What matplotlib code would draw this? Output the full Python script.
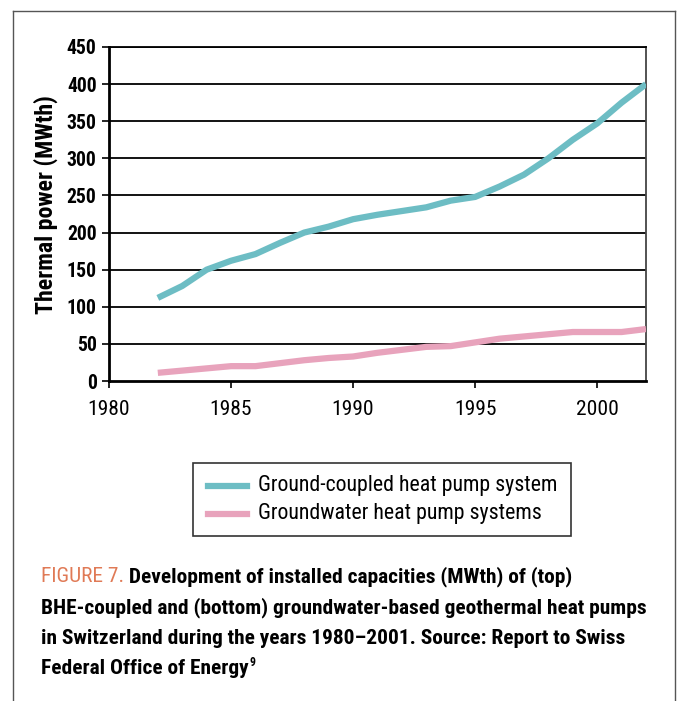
import matplotlib
matplotlib.use("Agg")
import matplotlib.pyplot as plt
from matplotlib.patches import Rectangle
from matplotlib.lines import Line2D
from matplotlib.font_manager import FontProperties

years = list(range(1982, 2003))
ground_coupled = [112, 128, 150, 162, 171, 186, 200, 208, 218, 224, 229, 234,
                  243, 248, 262, 278, 300, 325, 347, 375, 400]
groundwater = [11, 14, 17, 20, 20, 24, 28, 31, 33, 38, 42, 46,
               47, 52, 57, 60, 63, 66, 66, 66, 70]
series_labels = ["Ground-coupled heat pump system", "Groundwater heat pump systems"]
x_ticks = [1980, 1985, 1990, 1995, 2000]
y_ticks = list(range(0, 451, 50))
y_label = "Thermal power (MWth)"
caption_head = "FIGURE 7."
caption_lines = [
    " Development of installed capacities (MWth) of (top)",
    "BHE-coupled and (bottom) groundwater-based geothermal heat pumps",
    "in Switzerland during the years 1980\u20132001. Source: Report to Swiss",
    "Federal Office of Energy",
]

FONT = ["Roboto Condensed", "DejaVu Sans"]
plt.rcParams["font.family"] = FONT

teal = "#6dbdc4"
pink = "#e8a3bc"
salmon = "#e07a56"

fig = plt.figure(figsize=(6.79, 7.01), dpi=100)
W, H = 679, 701
renderer = fig.canvas.get_renderer()


def fx(px):
    return px / W


def fy(py):
    return 1 - py / H


def text_w(s, size, weight="normal"):
    fp = FontProperties(family=FONT, size=size, weight=weight)
    w, h, d = renderer.get_text_width_height_descent(s, fp, ismath=False)
    return w


def fit(s, target, weight="normal"):
    return 10 * target / text_w(s, 10, weight)


# outer frame (left, top, right)
fig.add_artist(Line2D([fx(13), fx(13)], [fy(11), 0], color="#555555", lw=1.0))
fig.add_artist(Line2D([fx(13), fx(675)], [fy(11), fy(11)], color="#555555", lw=1.0))
fig.add_artist(Line2D([fx(675), fx(675)], [fy(11), 0], color="#555555", lw=1.0))

ytick_size = fit("450", 30, "bold")
xtick_size = fit("1980", 42)
ylabel_size = fit(y_label, 218, "bold")

ax = fig.add_axes([fx(109), fy(381), fx(646) - fx(109), fy(47) - fy(381)])
for yv in y_ticks[1:]:
    ax.axhline(yv, color="black", lw=1.3, zorder=1)
ax.plot(years, ground_coupled, color=teal, lw=4.5, solid_capstyle="butt", zorder=3)
ax.plot(years, groundwater, color=pink, lw=4.5, solid_capstyle="butt", zorder=3)
ax.set_xlim(1980, 2002)
ax.set_ylim(0, 450)
ax.set_xticks(x_ticks)
ax.set_yticks(y_ticks)
ax.set_xticklabels([str(v) for v in x_ticks], fontsize=xtick_size)
ax.set_yticklabels([str(v) for v in y_ticks], fontsize=ytick_size, fontweight="bold")
ax.tick_params(axis="both", direction="out", length=5, width=1.2)
ax.tick_params(axis="x", pad=9)
ax.tick_params(axis="y", pad=4)
for s in ["left", "bottom"]:
    ax.spines[s].set_linewidth(2.0)
ax.spines["top"].set_linewidth(1.3)
ax.spines["right"].set_linewidth(1.3)
ax.spines["right"].set_color("#444444")

# y-axis title
fig.text(fx(46), fy(205), y_label, fontsize=ylabel_size, fontweight="bold",
         rotation=90, ha="center", va="center")

# legend box
fig.add_artist(Rectangle((fx(193), fy(536)), fx(571) - fx(193), fy(463) - fy(536),
                         fill=False, ec="#333333", lw=1.2))
leg_size = fit(series_labels[0], 299)
for i, (lab, col) in enumerate(zip(series_labels, [teal, pink])):
    yy = 486 + i * 28
    fig.add_artist(Line2D([fx(208), fx(247)], [fy(yy), fy(yy)], color=col, lw=4.5))
    fig.text(fx(258), fy(yy), lab, fontsize=leg_size, va="center", ha="left")

# caption
cap_size = fit(caption_lines[1], 606, "bold")
t = fig.text(fx(41), fy(577), caption_head, fontsize=cap_size, color=salmon,
             va="center", ha="left")
fig.canvas.draw()
bb = t.get_window_extent()
fig.text(bb.x1 / W, fy(577), caption_lines[0], fontsize=cap_size, fontweight="bold",
         va="center", ha="left")
tt = None
for i, line in enumerate(caption_lines[1:]):
    yy = 608 + i * 30.3
    tt = fig.text(fx(41), fy(yy), line, fontsize=cap_size, fontweight="bold",
                  va="center", ha="left")
fig.canvas.draw()
bb2 = tt.get_window_extent()
fig.text(bb2.x1 / W + 0.001, fy(663), "9", fontsize=cap_size * 0.55, fontweight="bold",
         va="center", ha="left")

fig.savefig("out.png", dpi=100)
